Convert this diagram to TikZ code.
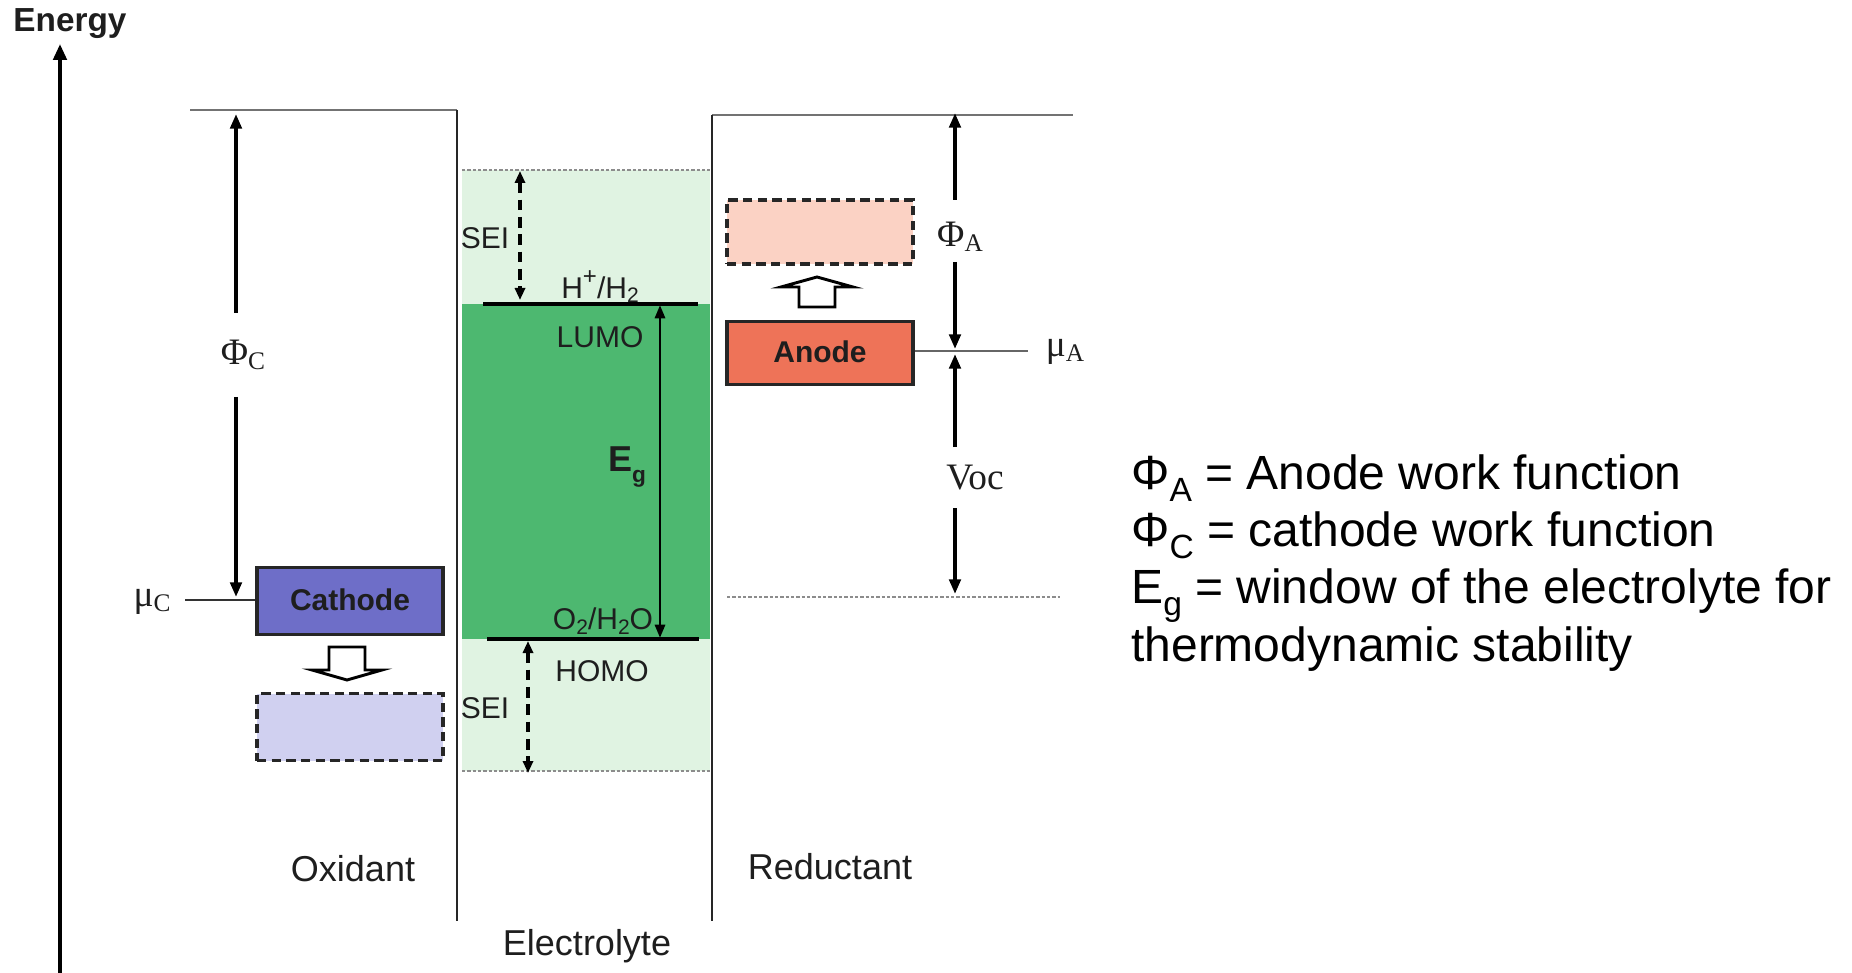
\documentclass[tikz,border=0pt]{standalone}
\usepackage{fontspec}
\setmainfont{Liberation Sans}
\newfontfamily\serifgreek{Liberation Serif}
\usetikzlibrary{arrows.meta}
\definecolor{dgreen}{RGB}{77,184,112}
\definecolor{lgreen}{RGB}{224,243,226}
\definecolor{cathblue}{RGB}{110,110,200}
\definecolor{lblue}{RGB}{208,208,240}
\definecolor{anodered}{RGB}{238,115,88}
\definecolor{lorange}{RGB}{251,210,196}
\definecolor{txt}{RGB}{30,30,30}
\newcommand\dnsub[2]{\raisebox{#1}{\scalebox{0.7}{#2}}}
\begin{document}
\begin{tikzpicture}[x=0.75pt,y=-0.75pt,
  >={Triangle[width=8.5pt,length=11pt]},
  axisline/.style={line width=2.8pt,black},
  wall/.style={line width=2pt,black!85},
  topline/.style={line width=1.4pt,black!55},
  thinline/.style={line width=1.1pt,black!60},
  dotline/.style={line width=1pt,black!45,dash pattern=on 2.5pt off 1.5pt},
  dimarrow/.style={line width=2.8pt,black},
  seiarrow/.style={line width=2.6pt,black,dash pattern=on 8pt off 5pt,>={Triangle[width=7.5pt,length=9pt]}},
  level/.style={line width=2.4pt,black},
  solidbox/.style={draw=black!85,line width=2.6pt,minimum width=139.5pt,minimum height=50pt,inner sep=0pt,
     font=\bfseries\fontsize{22.5}{26}\selectfont,text=txt},
  ghostbox/.style={draw=black!85,line width=2.5pt,dash pattern=on 7pt off 4pt,minimum width=139.5pt,inner sep=0pt},
  hollow/.style={draw=black,line width=2.2pt,fill=white,line join=miter},
  lbl/.style={font=\fontsize{22.5}{26}\selectfont,text=txt,inner sep=0pt},
  biglbl/.style={font=\fontsize{27}{32}\selectfont,text=txt,inner sep=0pt},
  serlbl/.style={font=\serifgreek\fontsize{28}{32}\selectfont,text=txt,inner sep=0pt},
  legend/.style={font=\fontsize{36}{43}\selectfont,anchor=base west,inner sep=0pt,text=black}
]
\useasboundingbox (0,0) rectangle (1852,973);

% electrolyte regions
\fill[lgreen] (462,170) rectangle (710,304);
\fill[dgreen] (462,304) rectangle (710,639);
\fill[lgreen] (462,639) rectangle (710,771);
\draw[dotline] (462,170) -- (710,170);
\draw[dotline] (462,771) -- (710,771);

% energy axis
\coordinate (axbot) at (60,973);
\coordinate (axtop) at (60,44);
\draw[axisline,->,>={Triangle[width=10pt,length=12pt]}] (axbot) -- (axtop);
\node[font=\bfseries\fontsize{25}{28}\selectfont,text=txt,inner sep=0pt] (energy) at (70,24) {Energy};

% walls and top lines
\coordinate (tlA) at (190,110);
\coordinate (tlB) at (457,110);
\coordinate (wlB) at (457,921);
\coordinate (trA) at (712,115);
\coordinate (trB) at (1073,115);
\coordinate (wrB) at (712,921);
\draw[topline] (tlA) -- (tlB);
\draw[wall] (tlB) -- (wlB);
\draw[topline] (trA) -- (trB);
\draw[wall] (trA) -- (wrB);

% LUMO / HOMO levels
\coordinate (lumoL) at (483,304);
\coordinate (lumoR) at (698,304);
\coordinate (homoL) at (487,639);
\coordinate (homoR) at (699,639);
\draw[level] (lumoL) -- (lumoR);
\draw[level] (homoL) -- (homoR);

% Eg arrow
\coordinate (egT) at (660,305);
\coordinate (egB) at (660,638);
\draw[line width=2.2pt,<->,>={Triangle[width=7.5pt,length=10pt]}] (egT) -- (egB);
\node[font=\bfseries\fontsize{27}{30}\selectfont,text=txt,inner sep=0pt] (eg) at (627,467) {E\raisebox{-0.3em}{\fontsize{17}{20}\selectfont g}};

% SEI arrows
\coordinate (seiTa) at (520,171);
\coordinate (seiTb) at (520,300);
\draw[seiarrow,<->] (seiTa) -- (seiTb);
\coordinate (seiBa) at (528,641);
\coordinate (seiBb) at (528,773);
\draw[seiarrow,<->] (seiBa) -- (seiBb);
\node[lbl] (sei1) at (485,238) {SEI};
\node[lbl] (sei2) at (485,708) {SEI};
\node[lbl] (hh) at (600,287) {H\raisebox{0.45em}{\scalebox{0.8}{+}}/H\dnsub{-0.15em}{2}};
\node[lbl] (lumo) at (600,337) {LUMO};
\node[lbl] (oh) at (603,621) {O\dnsub{-0.15em}{2}/H\dnsub{-0.15em}{2}O};
\node[lbl] (homo) at (602,671) {HOMO};

% cathode side
\node[solidbox,fill=cathblue] (cathode) at (350,601) {\raisebox{0.12em}{Cathode}};
\node[ghostbox,fill=lblue,minimum height=67pt*0.75] (cathghost) at (350,727) {};
\draw[hollow] (329,647) -- (365,647) -- (365,670) -- (382,670) -- (347,680) -- (312,670) -- (329,670) -- cycle;
\node[serlbl] (muC) at (152,602) {μ\raisebox{-0.12em}{\fontsize{19}{20}\selectfont C}};
\coordinate (muCl) at (185,600);
\draw[line width=1.3pt,black!80] (muCl) -- (cathode.west |- muCl);
\node[serlbl] (phiC) at (243,355) {Φ\raisebox{-0.12em}{\fontsize{19}{20}\selectfont C}};
\coordinate (phiCt) at (236,114);
\coordinate (phiCa) at (236,313);
\coordinate (phiCb) at (236,397);
\coordinate (phiCd) at (236,597);
\draw[dimarrow,->] (phiCa) -- (phiCt);
\draw[dimarrow,->] (phiCb) -- (phiCd);

% anode side
\node[solidbox,fill=anodered,minimum height=63pt*0.75] (anode) at (820,353) {\raisebox{0.1em}{Anode}};
\node[ghostbox,fill=lorange,minimum height=64pt*0.75] (anghost) at (820,232) {};
\draw[hollow] (799,307) -- (835,307) -- (835,287) -- (853,287) -- (817,277) -- (781,287) -- (799,287) -- cycle;
\coordinate (muAr) at (1028,351);
\draw[thinline] (anode.east |- muAr) -- (muAr);
\node[serlbl] (muA) at (1065,352) {μ\raisebox{-0.12em}{\fontsize{19}{20}\selectfont A}};
\node[serlbl] (phiA) at (960,237) {Φ\raisebox{-0.12em}{\fontsize{19}{20}\selectfont A}};
\coordinate (phiAt) at (955,113);
\coordinate (phiAa) at (955,200);
\coordinate (phiAb) at (955,262);
\coordinate (phiAd) at (955,349);
\draw[dimarrow,->] (phiAa) -- (phiAt);
\draw[dimarrow,->] (phiAb) -- (phiAd);
\node[serlbl] (voc) at (975,478) {Voc};
\coordinate (vocT) at (955,354);
\coordinate (voca) at (955,447);
\coordinate (vocb) at (955,508);
\coordinate (vocD) at (955,594);
\draw[dimarrow,->] (voca) -- (vocT);
\draw[dimarrow,->] (vocb) -- (vocD);
\coordinate (vdA) at (727,597);
\coordinate (vdB) at (1060,597);
\draw[dotline] (vdA) -- (vdB);

% bottom labels
\node[biglbl] (oxidant) at (353,869) {Oxidant};
\node[biglbl] (reductant) at (830,867) {Reductant};
\node[biglbl] (electrolyte) at (587,946) {Electrolyte};

% legend
\node[legend] (leg1) at (1131,489) {Φ\dnsub{-0.27em}{A} = Anode work function};
\node[legend] (leg2) at (1131,546) {Φ\dnsub{-0.27em}{C} = cathode work function};
\node[legend] (leg3) at (1131,603) {E\dnsub{-0.27em}{g} = window of the electrolyte for};
\node[legend] (leg4) at (1131,661) {thermodynamic stability};
\end{tikzpicture}
\end{document}
